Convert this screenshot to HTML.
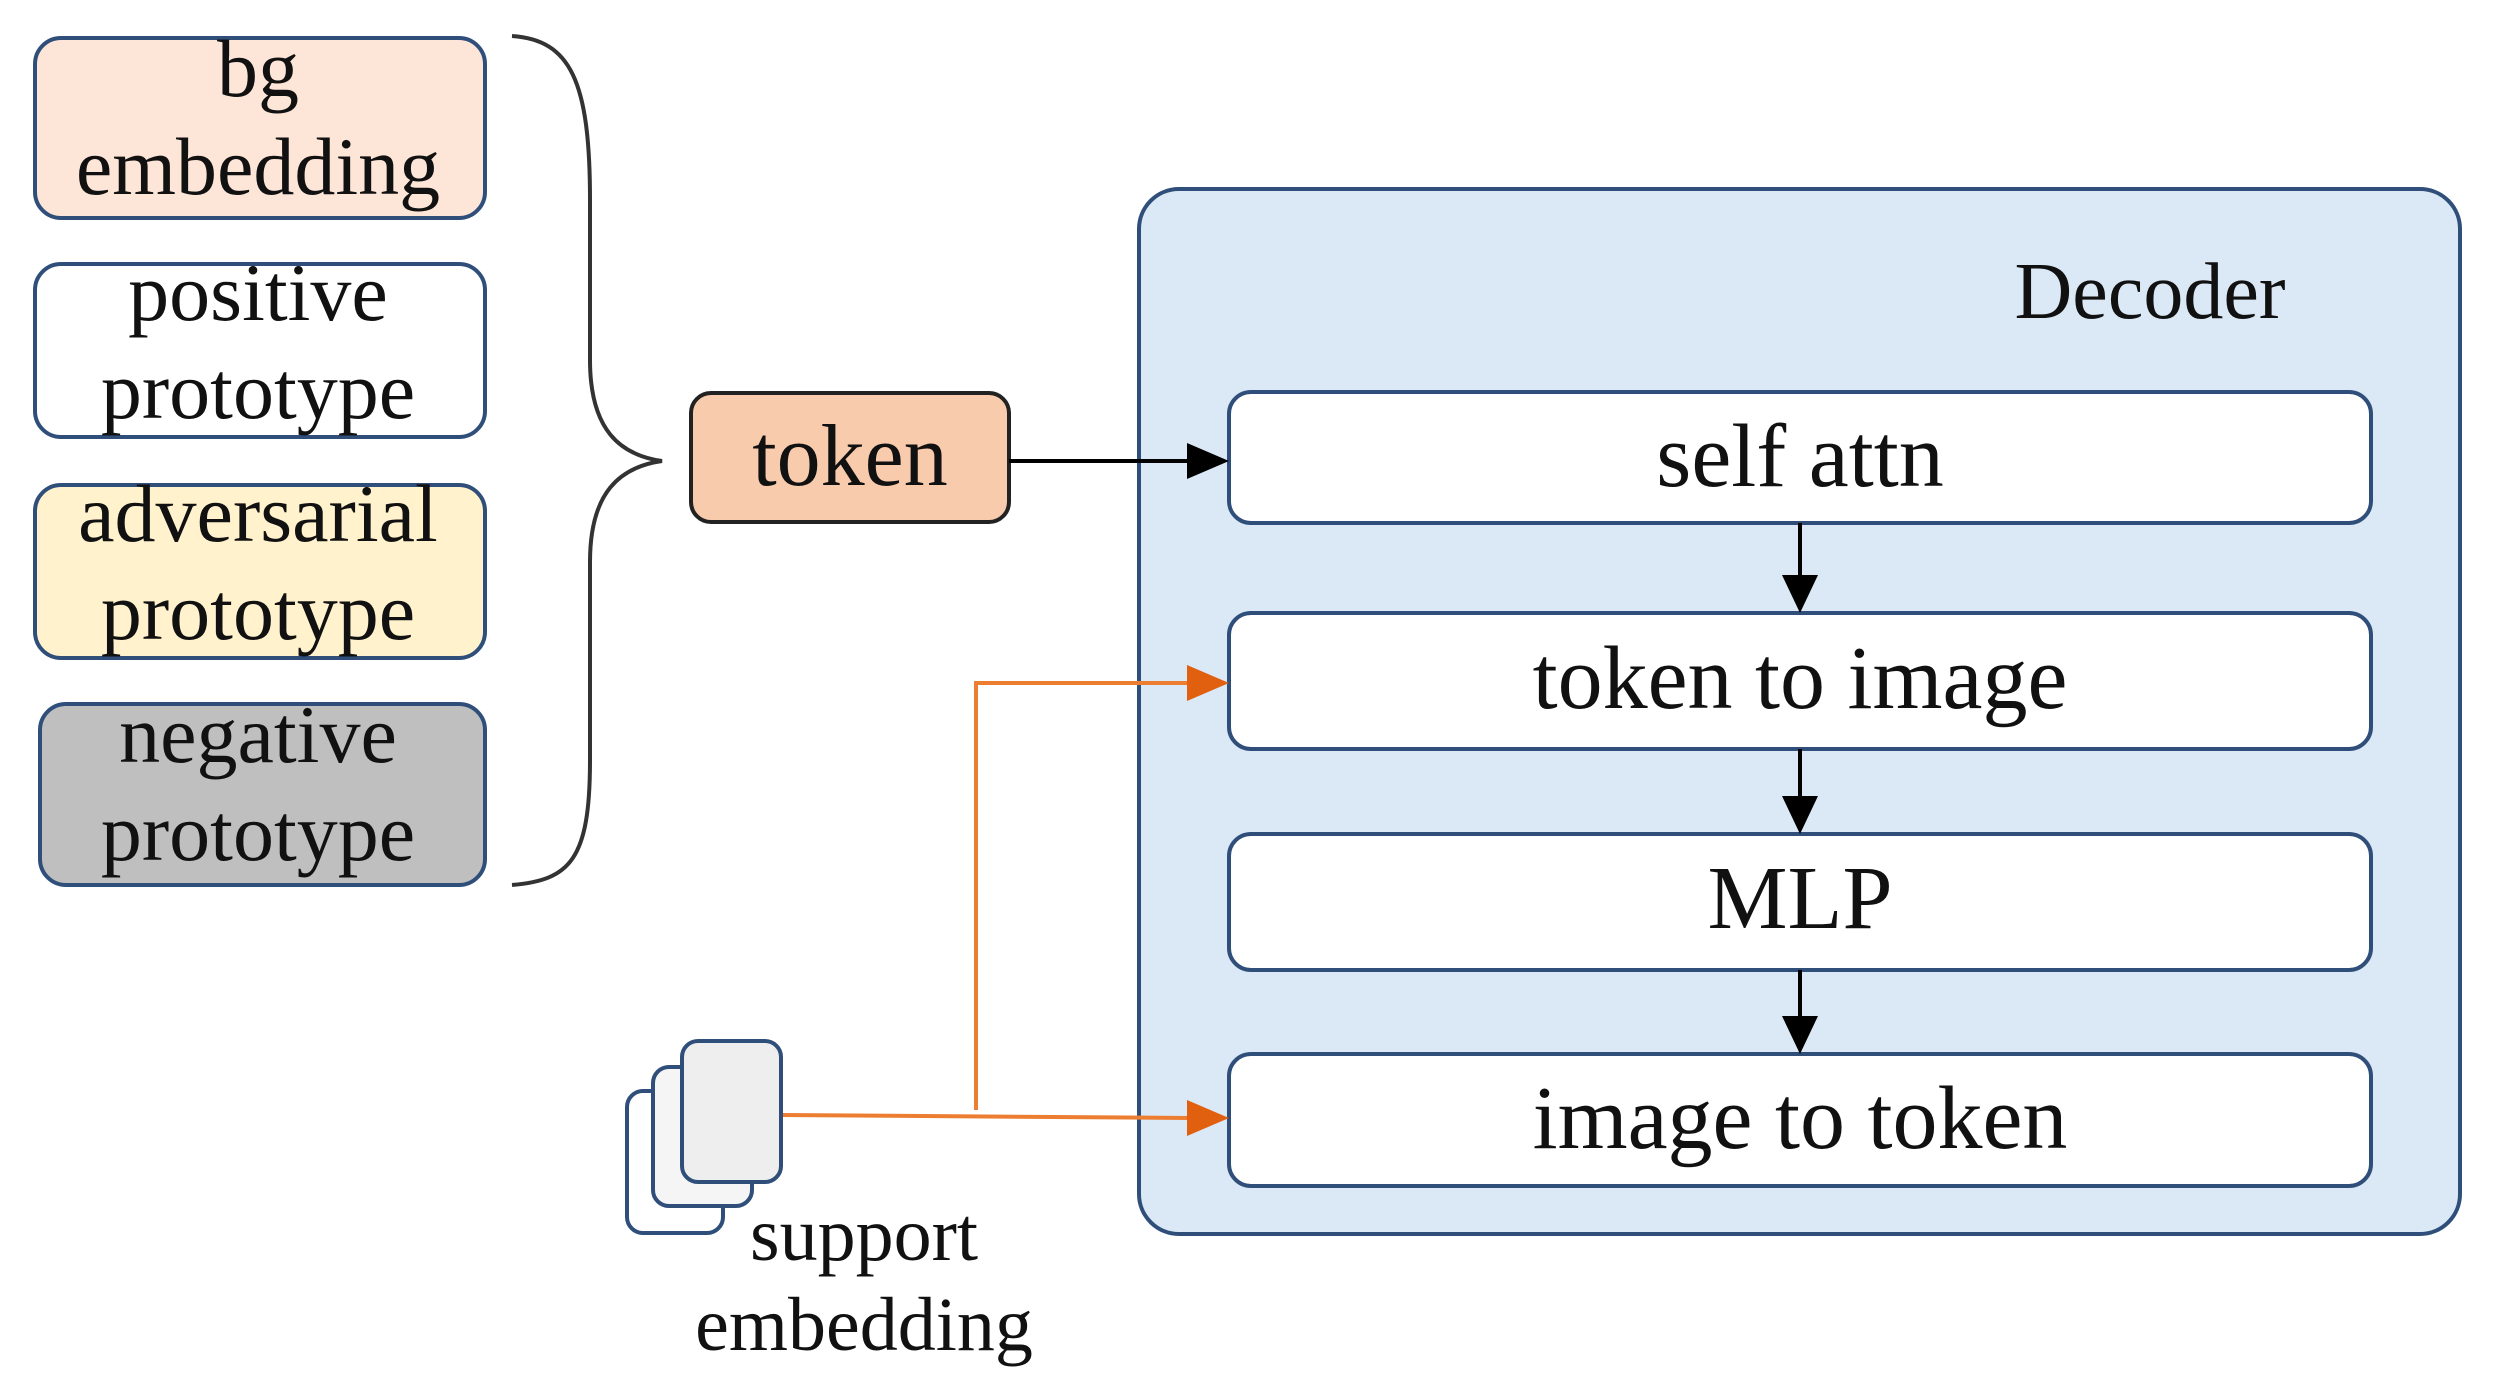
<!DOCTYPE html>
<html><head><meta charset="utf-8"><style>
html,body{margin:0;padding:0;background:#fff;}
svg{display:block;}
text{font-family:"Liberation Serif",serif;fill:#111;}
</style></head><body>
<svg width="2495" height="1379" viewBox="0 0 2495 1379" xmlns="http://www.w3.org/2000/svg">
<!-- left boxes -->
<rect x="35" y="38" width="450" height="180" rx="26" fill="#fde5d8" stroke="#2f4f7a" stroke-width="4"/>
<text x="258" y="96" font-size="82" text-anchor="middle">bg</text>
<text x="258" y="194" font-size="82" text-anchor="middle">embedding</text>
<rect x="35" y="264" width="450" height="173" rx="26" fill="#fff" stroke="#2f4f7a" stroke-width="4"/>
<text x="258" y="320" font-size="82" text-anchor="middle">positive</text>
<text x="258" y="418" font-size="82" text-anchor="middle">prototype</text>
<rect x="35" y="485" width="450" height="173" rx="26" fill="#fff2cc" stroke="#2f4f7a" stroke-width="4"/>
<text x="258" y="541" font-size="82" text-anchor="middle">adversarial</text>
<text x="258" y="639" font-size="82" text-anchor="middle">prototype</text>
<rect x="40" y="704" width="445" height="181" rx="26" fill="#bfbfbf" stroke="#2f4f7a" stroke-width="4"/>
<text x="258" y="762" font-size="82" text-anchor="middle">negative</text>
<text x="258" y="860" font-size="82" text-anchor="middle">prototype</text>
<!-- brace -->
<path d="M512,36 C570,40 590,80 590,200 L590,360 C590,430 620,455 662,461 C620,467 590,492 590,562 L590,760 C590,860 570,880 512,885" fill="none" stroke="#333" stroke-width="4"/>
<!-- token -->
<rect x="691" y="393" width="318" height="129" rx="20" fill="#f8cbad" stroke="#222" stroke-width="4"/>
<text x="850" y="485" font-size="88" text-anchor="middle">token</text>
<!-- decoder -->
<rect x="1139" y="189" width="1321" height="1045" rx="40" fill="#dbe9f6" stroke="#2f4f7a" stroke-width="4"/>
<text x="2150" y="318" font-size="80" text-anchor="middle">Decoder</text>
<rect x="1229" y="392" width="1142" height="131" rx="22" fill="#fff" stroke="#2f4f7a" stroke-width="4"/>
<text x="1800" y="486" font-size="90" text-anchor="middle">self attn</text>
<rect x="1229" y="613" width="1142" height="136" rx="22" fill="#fff" stroke="#2f4f7a" stroke-width="4"/>
<text x="1800" y="708" font-size="90" text-anchor="middle">token to image</text>
<rect x="1229" y="834" width="1142" height="136" rx="22" fill="#fff" stroke="#2f4f7a" stroke-width="4"/>
<text x="1800" y="928" font-size="90" text-anchor="middle">MLP</text>
<rect x="1229" y="1054" width="1142" height="132" rx="22" fill="#fff" stroke="#2f4f7a" stroke-width="4"/>
<text x="1800" y="1148" font-size="90" text-anchor="middle">image to token</text>
<!-- black arrows -->
<line x1="1009" y1="461" x2="1190" y2="461" stroke="#000" stroke-width="4"/>
<path d="M1187,443 L1229,461 L1187,479 z" fill="#000"/>
<line x1="1800" y1="523" x2="1800" y2="580" stroke="#000" stroke-width="4"/>
<path d="M1782,575 L1800,613 L1818,575 z" fill="#000"/>
<line x1="1800" y1="749" x2="1800" y2="800" stroke="#000" stroke-width="4"/>
<path d="M1782,796 L1800,834 L1818,796 z" fill="#000"/>
<line x1="1800" y1="970" x2="1800" y2="1020" stroke="#000" stroke-width="4"/>
<path d="M1782,1016 L1800,1054 L1818,1016 z" fill="#000"/>
<!-- orange -->
<polyline points="976,1110 976,683 1190,683" fill="none" stroke="#ed7d31" stroke-width="4"/>
<path d="M1187,665 L1229,683 L1187,701 z" fill="#e06010"/>
<line x1="781" y1="1115" x2="1190" y2="1118" stroke="#ed7d31" stroke-width="4"/>
<path d="M1187,1100 L1229,1118 L1187,1136 z" fill="#e06010"/>
<!-- support cards -->
<rect x="627" y="1091" width="96" height="142" rx="16" fill="#fff" stroke="#2f4f7a" stroke-width="4"/>
<rect x="653" y="1067" width="99" height="139" rx="16" fill="#f5f5f5" stroke="#2f4f7a" stroke-width="4"/>
<rect x="682" y="1041" width="99" height="141" rx="16" fill="#eeeeee" stroke="#2f4f7a" stroke-width="4"/>
<text x="864" y="1260" font-size="76" text-anchor="middle">support</text>
<text x="864" y="1350" font-size="76" text-anchor="middle">embedding</text>
</svg>
</body></html>
